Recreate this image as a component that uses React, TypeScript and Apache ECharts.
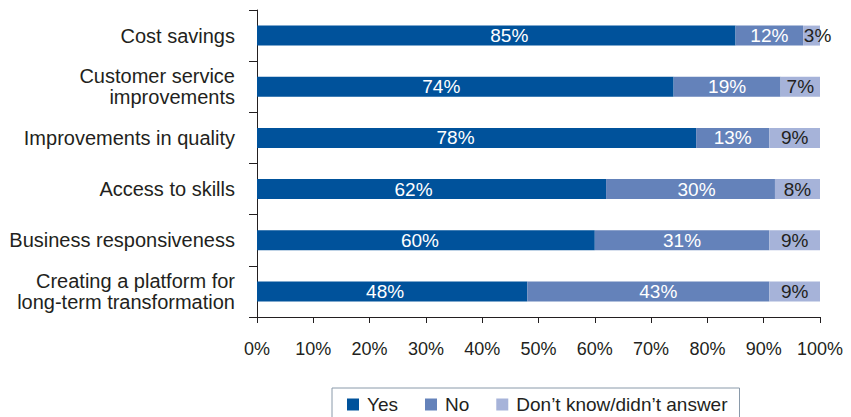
import React, { useEffect, useRef } from "react";
import * as echarts from "echarts";

const categories = [
  "Cost savings",
  "Customer service\nimprovements",
  "Improvements in quality",
  "Access to skills",
  "Business responsiveness",
  "Creating a platform for\nlong-term transformation",
];
const yesValues = [85, 74, 78, 62, 60, 48];
const noValues = [12, 19, 13, 30, 31, 43];
const dontKnowValues = [3, 7, 9, 8, 9, 9];
const seriesNames = ["Yes", "No", "Don\u2019t know/didn\u2019t answer"];
const xTicks = [0, 10, 20, 30, 40, 50, 60, 70, 80, 90, 100];

// horizontal nudges of the value labels (styling, in px)
const yesLabelShift = [13, -24, -21, -18, -6, -7];
const noLabelShift = [0, 0, 0, 6, 0, 10];
const dontKnowLabelShift = [6, 0, 0, 0, 0, 0];

const FONT = '"Liberation Sans", Arial, Helvetica, sans-serif';
const TEXT = "#231F20";

export default function App() {
  const ref = useRef<HTMLDivElement>(null);
  useEffect(() => {
    if (!ref.current) return;
    const chart = echarts.init(ref.current, undefined, { renderer: "svg" });
    const colors = ["#00529B", "#6482BA", "#A6B3D9"];
    const labelColors = ["#ffffff", "#ffffff", TEXT];
    const data = [yesValues, noValues, dontKnowValues];
    const shifts = [yesLabelShift, noLabelShift, dontKnowLabelShift];
    chart.setOption({
      animation: false,
      textStyle: { fontFamily: FONT },
      grid: { left: 257, right: 31, top: 10, bottom: 100, containLabel: false },
      legend: {
        data: seriesNames,
        left: 332,
        top: 388,
        padding: [7, 12, 12, 15],
        borderColor: "#8a9aaa",
        borderWidth: 1,
        borderRadius: 0,
        itemWidth: 12,
        itemHeight: 12,
        itemGap: 27,
        icon: "rect",
        textStyle: { fontSize: 19, color: TEXT, fontFamily: FONT, padding: [0, 0, 0, 3] },
      },
      xAxis: {
        type: "value",
        min: xTicks[0],
        max: xTicks[xTicks.length - 1],
        interval: 10,
        axisLine: { show: true, lineStyle: { color: TEXT, width: 1 } },
        axisTick: { show: true, length: 6, lineStyle: { color: TEXT } },
        splitLine: { show: false },
        axisLabel: {
          formatter: "{value}%",
          fontSize: 18,
          color: TEXT,
          margin: 23,
          fontFamily: FONT,
        },
      },
      yAxis: {
        type: "category",
        data: categories,
        inverse: true,
        axisLine: { show: true, lineStyle: { color: TEXT, width: 1 } },
        axisTick: { show: true, length: 8, lineStyle: { color: TEXT } },
        axisLabel: {
          fontSize: 20,
          color: TEXT,
          margin: 22,
          align: "right",
          lineHeight: 21,
          fontFamily: FONT,
        },
      },
      series: seriesNames.map((name, i) => ({
        name,
        type: "bar",
        stack: "total",
        barWidth: 20,
        itemStyle: { color: colors[i] },
        label: {
          show: true,
          position: "inside",
          formatter: "{c}%",
          fontSize: 19,
          color: labelColors[i],
          fontFamily: FONT,
        },
        data: data[i].map((v, j) => ({
          value: v,
          label: { offset: [shifts[i][j], 0] },
        })),
      })),
    });
    return () => chart.dispose();
  }, []);
  return (
    <div
      ref={ref}
      style={{ position: "absolute", left: 0, top: 0, width: 851, height: 417 }}
    />
  );
}
